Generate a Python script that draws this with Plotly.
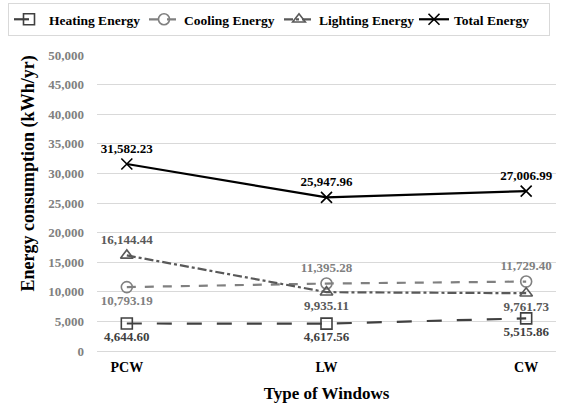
import plotly.graph_objects as go

windows = ['PCW', 'LW', 'CW']
heating = [4644.60, 4617.56, 5515.86]
cooling = [10793.19, 11395.28, 11729.40]
lighting = [16144.44, 9935.11, 9761.73]
total = [31582.23, 25947.96, 27006.99]

font = 'Liberation Serif'


def fmt(vals):
    return ['<b>{:,.2f}</b>'.format(v) for v in vals]


series = [
    # name, values, colour, dash, marker, label colour, label positions
    ('Heating Energy', heating, '#404040', 'longdash', 'square-open', '#404040',
     ['bottom center', 'bottom center', 'bottom center']),
    ('Cooling Energy', cooling, '#808080', 'dash', 'circle-open', '#808080',
     ['bottom center', 'top center', 'top center']),
    ('Lighting Energy', lighting, '#595959', 'dashdot', 'triangle-up-open', '#595959',
     ['top center', 'bottom center', 'bottom center']),
    ('Total Energy', total, '#000000', 'solid', 'x-thin-open', '#000000',
     ['top center', 'top center', 'top center']),
]

fig = go.Figure()
for name, vals, col, dash, sym, tcol, pos in series:
    fig.add_trace(go.Scatter(
        x=windows, y=vals, name='<b>' + name + '</b>', mode='lines+markers+text',
        line=dict(color=col, width=2.2, dash=dash),
        marker=dict(symbol=sym, size=11, color=col, line=dict(color=col, width=1.6)),
        text=fmt(vals), textposition=pos,
        textfont=dict(family=font, size=13, color=tcol),
    ))

# plot area 97..556 x 55..351 px
fig.update_layout(
    width=573, height=403,
    margin=dict(l=97, r=17, t=55, b=52, autoexpand=False),
    plot_bgcolor='white', paper_bgcolor='white',
    font=dict(family=font),
    showlegend=True,
    legend=dict(orientation='h',
                x=-89 / 459, y=1 + 52 / 296, xanchor='left', yanchor='top',
                bordercolor='#d9d9d9', borderwidth=1,
                font=dict(family=font, size=13.5, color='#000000'),
                itemwidth=30, entrywidth=90, tracegroupgap=0),
    xaxis=dict(
        title=dict(text='<b>Type of Windows</b>', font=dict(size=17, color='#000000'),
                   standoff=14),
        tickfont=dict(size=14, color='#000000'),
        tickprefix='<b>', ticksuffix='</b>',
        showgrid=False, showline=False, ticks='', ticklabelstandoff=6,
    ),
    yaxis=dict(
        range=[0, 50000], dtick=5000, tickformat=',d',
        tickprefix='<b>', ticksuffix='</b>',
        tickfont=dict(size=13, color='#808080'),
        showgrid=True, gridcolor='#d9d9d9', gridwidth=1,
        zeroline=True, zerolinecolor='#d9d9d9', zerolinewidth=1,
        showline=False, ticks='', ticklen=0, ticklabelstandoff=12,
    ),
    annotations=[dict(
        text='<b>Energy consumption (kWh/yr)</b>', textangle=-90,
        xref='paper', yref='paper', x=-69 / 459, y=0.60,
        xanchor='center', yanchor='middle', showarrow=False,
        font=dict(family=font, size=18, color='#000000'),
    )],
)

fig.write_html('out.html', config={'displayModeBar': False},
               post_script="document.body.style.margin='0';")
